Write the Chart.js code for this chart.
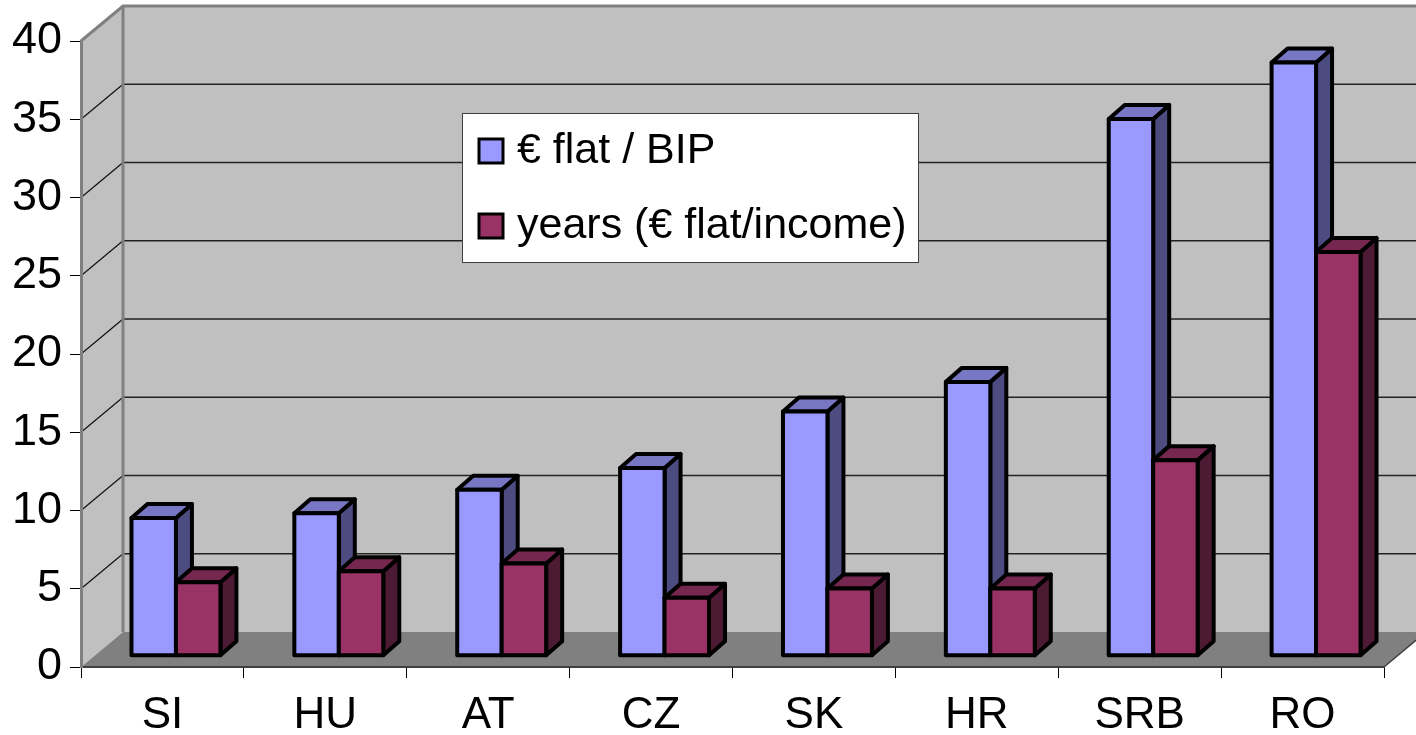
<!DOCTYPE html>
<html>
<head>
<meta charset="utf-8">
<script src="https://cdn.jsdelivr.net/npm/chart.js@4.4.1/dist/chart.umd.min.js"></script>
<style>
	html, body { margin: 0; padding: 0; background: #ffffff; }
	#wrap { width: 1416px; height: 735px; position: relative; }
</style>
</head>
<body>
<div id="wrap"><canvas id="chart"></canvas></div>
<script>
// data
const countries = ['SI', 'HU', 'AT', 'CZ', 'SK', 'HR', 'SRB', 'RO'];
const flatPerBip = [8.8, 9.1, 10.6, 12.0, 15.6, 17.5, 34.3, 37.9];
const yearsFlatIncome = [4.7, 5.4, 5.9, 3.7, 4.3, 4.3, 12.5, 25.8];
const seriesNames = ['€ flat / BIP', 'years (€ flat/income)'];
const yTicks = [0, 5, 10, 15, 20, 25, 30, 35, 40];

// pseudo 3D look
const FONT = '"Liberation Sans", Arial, sans-serif';
const WALL = { dx: 42, dy: -35 };
const BAR_PLANE = { dx: 13.5, dy: -11.25 };
const BAR_DEPTH = { dx: 16, dy: -14 };
const frontColors = ['#9999ff', '#993366'];
const topColors = ['#7777c4', '#762750'];
const sideColors = ['#4c4c80', '#4c1a33'];

const polygon = (ctx, pts, fill, stroke, width) => {
	ctx.beginPath();
	ctx.moveTo(pts[0][0], pts[0][1]);
	pts.slice(1).forEach((p) => ctx.lineTo(p[0], p[1]));
	ctx.closePath();
	if (fill) {
		ctx.fillStyle = fill;
		ctx.fill();
	}
	if (stroke) {
		ctx.strokeStyle = stroke;
		ctx.lineWidth = width;
		ctx.stroke();
	}
};

const line = (ctx, x1, y1, x2, y2, color, width) => {
	ctx.beginPath();
	ctx.moveTo(x1, y1);
	ctx.lineTo(x2, y2);
	ctx.strokeStyle = color;
	ctx.lineWidth = width;
	ctx.stroke();
};

const wallsPlugin = {
	id: 'walls',
	beforeDraw(chart) {
		const { ctx, chartArea: a, scales: { y } } = chart;
		const y0 = y.getPixelForValue(0);
		const yTop = y.getPixelForValue(yTicks[yTicks.length - 1]);
		const dx = WALL.dx;
		const dy = WALL.dy;
		ctx.save();
		// side wall + back wall
		polygon(ctx, [[a.left, y0], [a.left, yTop], [a.left + dx, yTop + dy], [a.left + dx, y0 + dy]], '#c0c0c0');
		polygon(ctx, [[a.left + dx, yTop + dy], [a.right + dx, yTop + dy], [a.right + dx, y0 + dy], [a.left + dx, y0 + dy]], '#c0c0c0');
		// floor
		polygon(ctx, [[a.left, y0], [a.left + dx, y0 + dy], [a.right + dx, y0 + dy], [a.right, y0]], '#808080');
		line(ctx, a.right, y0, a.right + dx, y0 + dy, '#404040', 1.5);

		// grid lines on both walls
		yTicks.slice(1, -1).forEach((v) => {
			const py = y.getPixelForValue(v);
			line(ctx, a.left, py, a.left + dx, py + dy, '#111111', 1.2);
			line(ctx, a.left + dx, py + dy, a.right + dx, py + dy, '#222222', 1.5);
		});

		// wall outlines
		ctx.lineJoin = 'miter';
		ctx.beginPath();
		ctx.moveTo(a.left, yTop);
		ctx.lineTo(a.left + dx, yTop + dy);
		ctx.lineTo(a.right + dx, yTop + dy);
		ctx.strokeStyle = '#808080';
		ctx.lineWidth = 3;
		ctx.stroke();
		line(ctx, a.left + dx, yTop + dy, a.left + dx, y0 + dy, '#808080', 3);
		ctx.restore();
	},
};

const barsPlugin = {
	id: 'bars3d',
	beforeDatasetsDraw(chart) {
		const { ctx } = chart;
		const metas = chart.data.datasets.map((_d, i) => chart.getDatasetMeta(i));
		ctx.save();
		ctx.lineJoin = 'round';
		countries.forEach((_c, index) => {
			metas.forEach((meta, di) => {
				const el = meta.data[index];
				const x0 = el.x - el.width / 2 + BAR_PLANE.dx;
				const x1 = el.x + el.width / 2 + BAR_PLANE.dx;
				const yt = el.y + BAR_PLANE.dy;
				const yb = el.base + BAR_PLANE.dy;
				const tx = BAR_DEPTH.dx;
				const ty = BAR_DEPTH.dy;
				polygon(ctx, [[x1, yt], [x1 + tx, yt + ty], [x1 + tx, yb + ty], [x1, yb]], sideColors[di], '#000000', 4);
				polygon(ctx, [[x0, yt], [x0 + tx, yt + ty], [x1 + tx, yt + ty], [x1, yt]], topColors[di], '#000000', 4);
				polygon(ctx, [[x0, yt], [x1, yt], [x1, yb], [x0, yb]], frontColors[di], '#000000', 4);
			});
		});
		ctx.restore();
		return false;
	},
};

const legendPlugin = {
	id: 'boxLegend',
	afterDraw(chart) {
		const { ctx } = chart;
		ctx.save();
		ctx.fillStyle = '#ffffff';
		ctx.fillRect(462, 113, 457, 150);
		ctx.strokeStyle = '#404040';
		ctx.lineWidth = 1;
		ctx.strokeRect(462.5, 113.5, 456, 149);
		const rows = [151, 226];
		chart.data.datasets.forEach((ds, i) => {
			ctx.fillStyle = ds.backgroundColor;
			ctx.fillRect(479, rows[i] - 12, 24, 24);
			ctx.strokeStyle = '#000000';
			ctx.lineWidth = 3;
			ctx.strokeRect(479, rows[i] - 12, 24, 24);
			ctx.fillStyle = '#000000';
			ctx.font = `43px ${FONT}`;
			ctx.textBaseline = 'middle';
			ctx.fillText(ds.label, 517, rows[i]);
		});
		ctx.restore();
	},
};

new Chart(document.getElementById('chart'), {
	type: 'bar',
	data: {
		labels: countries,
		datasets: [
			{ label: seriesNames[0], data: flatPerBip, backgroundColor: frontColors[0] },
			{ label: seriesNames[1], data: yearsFlatIncome, backgroundColor: frontColors[1] },
		],
	},
	options: {
		responsive: true,
		maintainAspectRatio: false,
		animation: false,
		categoryPercentage: 0.546,
		barPercentage: 1.0,
		layout: { padding: { top: 41, right: 32, bottom: 0, left: 0 } },
		plugins: {
			legend: { display: false },
			tooltip: { enabled: false },
		},
		scales: {
			x: {
				afterFit: (scale) => { scale.height = 68; },
				grid: { offset: true, drawOnChartArea: false, tickLength: 11, color: '#000000', lineWidth: 1 },
				border: { color: '#404040', width: 2 },
				ticks: { font: { family: FONT, size: 44 }, color: '#000000', padding: 11 },
			},
			y: {
				min: 0,
				max: 40,
				afterFit: (scale) => { scale.width = 81; },
				afterBuildTicks: (scale) => { scale.ticks = yTicks.map((v) => ({ value: v })); },
				grid: { drawOnChartArea: false, tickLength: 11, color: '#000000', lineWidth: 1 },
				border: { color: '#808080', width: 3 },
				ticks: { font: { family: FONT, size: 45 }, color: '#000000', padding: 8 },
			},
		},
	},
	plugins: [wallsPlugin, barsPlugin, legendPlugin],
});
</script>
</body>
</html>
